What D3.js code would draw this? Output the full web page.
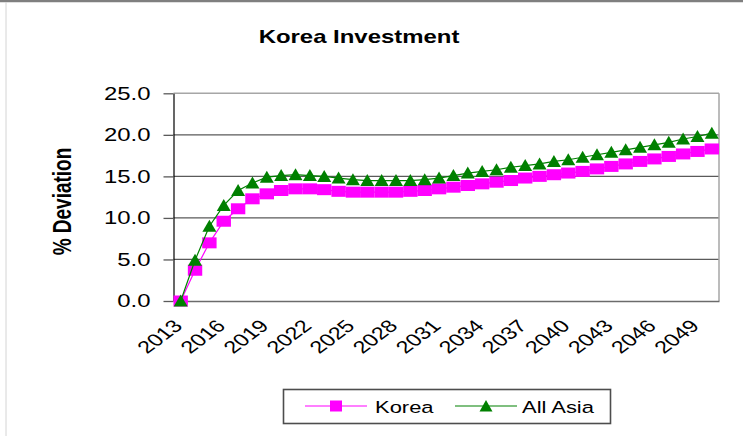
<!DOCTYPE html>
<html>
<head>
<meta charset="utf-8">
<script src="https://cdn.jsdelivr.net/npm/d3@7"></script>
<style>
  html, body { margin: 0; padding: 0; background: #fff; }
  svg { display: block; }
  text { font-family: "Liberation Sans", Arial, sans-serif; fill: #000; }
</style>
</head>
<body>
<svg id="chart" width="743" height="436"></svg>
<script>
// Simulated investment response, % deviation from baseline
const years = d3.range(2013, 2051);
const korea = [
  0.0, 3.7, 7.0, 9.6, 11.1, 12.3, 12.9, 13.3, 13.5, 13.5,
  13.4, 13.2, 13.1, 13.1, 13.1, 13.1, 13.2, 13.3, 13.5, 13.7,
  13.9, 14.1, 14.3, 14.5, 14.8, 15.0, 15.2, 15.4, 15.6, 15.9,
  16.2, 16.5, 16.8, 17.1, 17.4, 17.7, 18.0, 18.3
];
const allAsia = [
  0.0, 4.9, 9.0, 11.5, 13.3, 14.2, 14.9, 15.1, 15.2, 15.1,
  15.0, 14.8, 14.6, 14.5, 14.5, 14.5, 14.5, 14.6, 14.8, 15.1,
  15.4, 15.6, 15.8, 16.1, 16.3, 16.5, 16.8, 17.0, 17.3, 17.6,
  17.9, 18.2, 18.5, 18.8, 19.1, 19.5, 19.8, 20.2
];
const yTicks = [0, 5, 10, 15, 20, 25];
const xTickYears = [2013, 2016, 2019, 2022, 2025, 2028, 2031, 2034, 2037, 2040, 2043, 2046, 2049];
const seriesNames = ["Korea", "All Asia"];

const SX = 1.33; // horizontal text stretch used throughout the chart
const svg = d3.select("#chart");

// outer frame
svg.append("rect").attr("x", 0).attr("y", 0).attr("width", 743).attr("height", 436).attr("fill", "#fff");
svg.append("line").attr("x1", 0).attr("x2", 743).attr("y1", 1).attr("y2", 1)
  .attr("stroke", "#7f7f7f").attr("stroke-width", 2.5);
svg.append("line").attr("x1", 6).attr("x2", 6).attr("y1", 2).attr("y2", 436)
  .attr("stroke", "#d4d4d4").attr("stroke-width", 1);

const plot = { left: 173.5, right: 719, top: 93.3, bottom: 301 };

const x = d3.scaleBand().domain(years).range([plot.left, plot.right]).paddingInner(0).paddingOuter(0);
const cx = d => x(d) + x.bandwidth() / 2;
const y = d3.scaleLinear().domain([0, 25]).range([plot.bottom, plot.top]);

// horizontal gridlines
const grid = svg.append("g");
grid.selectAll("line.g").data(yTicks.filter(t => t > 0 && t < 25)).join("line")
  .attr("x1", plot.left).attr("x2", plot.right)
  .attr("y1", d => y(d)).attr("y2", d => y(d))
  .attr("stroke", "#5a5a5a").attr("stroke-width", 1.3);

// top and right edges of the plot area
svg.append("line").attr("x1", plot.left).attr("x2", plot.right).attr("y1", plot.top).attr("y2", plot.top)
  .attr("stroke", "#a6a6a6").attr("stroke-width", 1.5);
svg.append("line").attr("x1", plot.right).attr("x2", plot.right).attr("y1", plot.top).attr("y2", plot.bottom)
  .attr("stroke", "#a6a6a6").attr("stroke-width", 1.5);

// x axis (category axis along 0)
const xAxis = svg.append("g").attr("transform", `translate(0,${plot.bottom})`)
  .call(d3.axisBottom(x).tickValues(xTickYears).tickSize(0).tickSizeOuter(0));
xAxis.select(".domain").attr("stroke", "#6b6b6b").attr("stroke-width", 1.5);
xAxis.selectAll("text")
  .attr("x", null).attr("y", null).attr("dy", null)
  .attr("text-anchor", "end")
  .attr("font-size", 17.5)
  .attr("fill", "#000")
  .attr("transform", `translate(3,26) scale(${SX},1) rotate(-45)`);

// y axis
const yAxis = svg.append("g").attr("transform", `translate(${plot.left},0)`)
  .call(d3.axisLeft(y).tickValues(yTicks).tickFormat(d3.format(".1f")).tickSize(10).tickPadding(13).tickSizeOuter(0));
yAxis.select(".domain").attr("stroke", "#000").attr("stroke-width", 1.2);
yAxis.selectAll(".tick line").attr("stroke", "#5a5a5a").attr("stroke-width", 1.3);
yAxis.selectAll("text").each(function () {
  const t = d3.select(this);
  const tx = +t.attr("x");
  t.attr("x", 0).attr("font-size", 18).attr("fill", "#000")
    .attr("transform", `translate(${tx},0) scale(${SX},1)`);
});

// series
const line = d3.line().x((d, i) => cx(years[i])).y(d => y(d));
const squarePath = "M-7.2,-5.5h14.4v11h-14.4z";
const trianglePath = "M0,-6.5L7,5.5L-7,5.5Z";

svg.append("path").datum(korea).attr("d", line)
  .attr("fill", "none").attr("stroke", "#ff00ff").attr("stroke-width", 1.2);
svg.append("g").selectAll("path").data(korea).join("path")
  .attr("d", squarePath)
  .attr("transform", (d, i) => `translate(${cx(years[i])},${y(d)})`)
  .attr("fill", "#ff00ff");

svg.append("path").datum(allAsia).attr("d", line)
  .attr("fill", "none").attr("stroke", "#008000").attr("stroke-width", 1.2);
svg.append("g").selectAll("path").data(allAsia).join("path")
  .attr("d", trianglePath)
  .attr("transform", (d, i) => `translate(${cx(years[i])},${y(d)})`)
  .attr("fill", "#008000");

// title
svg.append("text").attr("transform", `translate(359,42.5) scale(${SX},1)`)
  .attr("text-anchor", "middle").attr("font-size", 18).attr("font-weight", "bold")
  .text("Korea Investment");

// y axis title
svg.append("text").attr("transform", `translate(71,201.5) scale(${SX},1) rotate(-90)`)
  .attr("text-anchor", "middle").attr("font-size", 19).attr("font-weight", "bold")
  .text("% Deviation");

// legend
const legend = svg.append("g");
legend.append("rect").attr("x", 283.5).attr("y", 389.5).attr("width", 327).attr("height", 34)
  .attr("fill", "#fff").attr("stroke", "#4d4d4d").attr("stroke-width", 1.6);
const legendItems = [
  { name: seriesNames[0], color: "#ff00ff", marker: "M-6,-5.5h12v11h-12z", x0: 305, x1: 367, tx: 375 },
  { name: seriesNames[1], color: "#008000", marker: "M0,-6L6.5,5.5L-6.5,5.5Z", x0: 455, x1: 517, tx: 522 }
];
legendItems.forEach(it => {
  legend.append("line").attr("x1", it.x0).attr("x2", it.x1).attr("y1", 406).attr("y2", 406)
    .attr("stroke", it.color).attr("stroke-width", 1.2);
  legend.append("path").attr("d", it.marker)
    .attr("transform", `translate(${(it.x0 + it.x1) / 2},406)`).attr("fill", it.color);
  legend.append("text").attr("transform", `translate(${it.tx},412.5) scale(${SX},1)`)
    .attr("font-size", 16.5).text(it.name);
});
</script>
</body>
</html>
